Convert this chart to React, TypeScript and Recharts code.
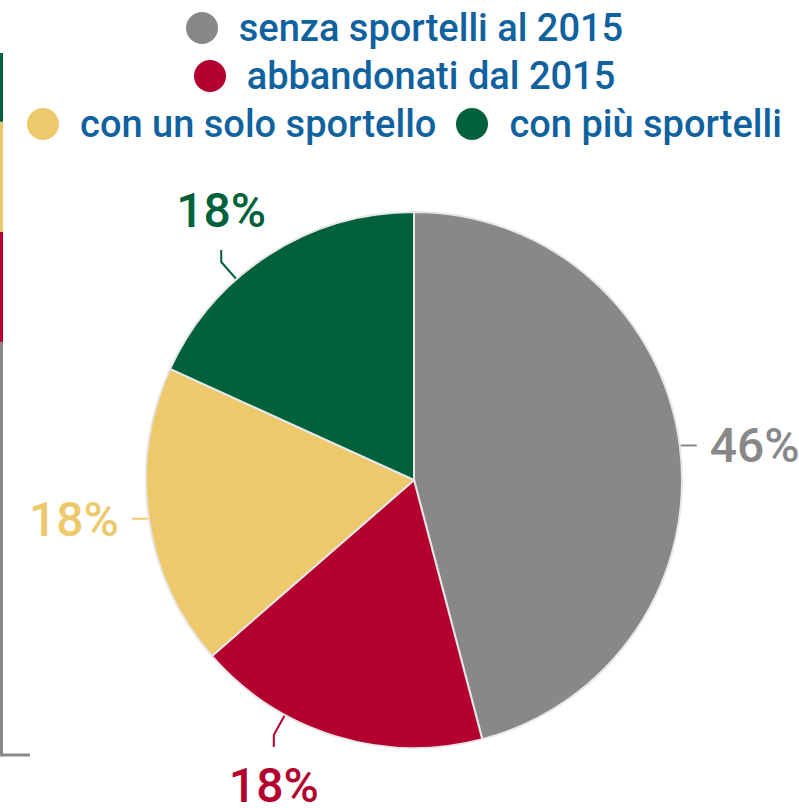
import React from 'react';
import { PieChart, Pie, Cell, Legend, BarChart, Bar, XAxis, YAxis } from 'recharts';

const categories = ['senza sportelli al 2015', 'abbandonati dal 2015', 'con un solo sportello', 'con più sportelli'];
const shares = [45.9, 17.7, 18.2, 18.2];
const COLORS = ['#888889', '#b4002f', '#eec96b', '#00613a'];
const stripKeys = ['gray', 'red', 'yellow', 'green'];
const stripValues = [58.8, 15.7, 15.7, 9.8];

const pieData = categories.map((name, i) => ({ name, value: shares[i] }));
const stripRow: Record<string, any> = { name: '' };
stripKeys.forEach((k, i) => { stripRow[k] = stripValues[i]; });
const stripData = [stripRow];
const stripTotal = stripValues.reduce((a, b) => a + b, 0);

const RAD = Math.PI / 180;
const FONT = 'Roboto, sans-serif';
const LABEL_TOP = 250;
const LABEL_BOTTOM = 747;

function renderLabel(props: any) {
  const { cx, cy, midAngle, outerRadius, percent, index } = props;
  let c = Math.cos(-midAngle * RAD);
  let s = Math.sin(-midAngle * RAD);
  const color = COLORS[index];
  const r0 = outerRadius + 1;
  const text = `${Math.round(percent * 100)}%`;
  const textStyle = { fontFamily: FONT, fontSize: 48, fontWeight: 500 } as const;
  if (Math.abs(s) > Math.abs(c)) {
    const dir = s > 0 ? 1 : -1;
    const sMax = dir > 0 ? (LABEL_BOTTOM - 12 - cy) / (r0 + 22) : (cy - LABEL_TOP - 12) / (r0 + 22);
    if (Math.abs(s) > sMax) {
      s = dir * sMax;
      c = (c < 0 ? -1 : 1) * Math.sqrt(1 - s * s);
    }
    const x0 = cx + r0 * c;
    const y0 = cy + r0 * s;
    const x1 = cx + (r0 + 22) * c;
    const y1 = cy + (r0 + 22) * s;
    const y2 = y1 + dir * 12;
    const ty = dir > 0 ? y2 + 55 : y2 - 23;
    return (
      <g>
        <path d={`M${x0},${y0}L${x1},${y1}L${x1},${y2}`} stroke={color} strokeWidth={2} fill="none" />
        <text x={x1} y={ty} textAnchor="middle" fill={color} style={textStyle}>{text}</text>
      </g>
    );
  }
  const x0 = cx + r0 * c;
  const y0 = cy + r0 * s;
  const dir = c > 0 ? 1 : -1;
  const x2 = x0 + dir * 16;
  const tx = x2 + dir * 13;
  return (
    <g>
      <path d={`M${x0},${y0}L${x2},${y0}`} stroke={color} strokeWidth={2} fill="none" />
      <text x={tx} y={y0 + 17} textAnchor={dir > 0 ? 'start' : 'end'} fill={color} style={textStyle}>{text}</text>
    </g>
  );
}

function LegendContent(props: any) {
  const payload = [...(props.payload || [])].sort(
    (a: any, b: any) => categories.indexOf(a.value) - categories.indexOf(b.value)
  );
  return (
    <div style={{ textAlign: 'center', paddingLeft: 10, paddingTop: 4, lineHeight: '48px' }}>
      {payload.map((p: any, i: number) => (
        <span key={i} style={{ display: 'inline-flex', alignItems: 'center', margin: '0 10px', height: 48, verticalAlign: 'top' }}>
          <svg width={32} height={32} style={{ marginRight: 21 }}>
            <circle cx={16} cy={16} r={16} fill={p.color} />
          </svg>
          <span style={{ fontFamily: FONT, fontSize: 38, fontWeight: 500, color: '#10629f', whiteSpace: 'nowrap' }}>{p.value}</span>
        </span>
      ))}
    </div>
  );
}

export default function App() {
  return (
    <div style={{ position: 'absolute', left: 0, top: 0, width: 799, height: 808, background: '#fff', overflow: 'hidden' }}>
      <div style={{ position: 'absolute', left: -30, top: 53 }}>
        <BarChart width={60} height={705} data={stripData} margin={{ top: 0, right: 0, bottom: 0, left: 0 }}>
          <XAxis dataKey="name" tick={false} tickLine={false} height={3} axisLine={{ stroke: '#8a8a8a', strokeWidth: 3 }} />
          <YAxis hide domain={[0, stripTotal]} />
          {stripKeys.map((k, i) => (
            <Bar key={k} dataKey={k} stackId="s" fill={COLORS[i]} barSize={6} isAnimationActive={false} />
          ))}
        </BarChart>
      </div>
      <div style={{ position: 'absolute', left: 0, top: 0 }}>
        <PieChart width={799} height={808} margin={{ top: 0, right: 0, bottom: 0, left: 0 }}>
          <Legend
            verticalAlign="middle"
            layout="horizontal"
            content={<LegendContent />}
            wrapperStyle={{ top: 0, left: 0, width: 799 }}
          />
          <Pie
            data={pieData}
            dataKey="value"
            nameKey="name"
            cx={414}
            cy={480}
            outerRadius={268}
            startAngle={90}
            endAngle={-270}
            stroke="#e6e6e6"
            strokeWidth={2}
            label={renderLabel}
            labelLine={false}
            isAnimationActive={false}
          >
            {pieData.map((d, i) => (
              <Cell key={d.name} fill={COLORS[i]} />
            ))}
          </Pie>
        </PieChart>
      </div>
    </div>
  );
}
